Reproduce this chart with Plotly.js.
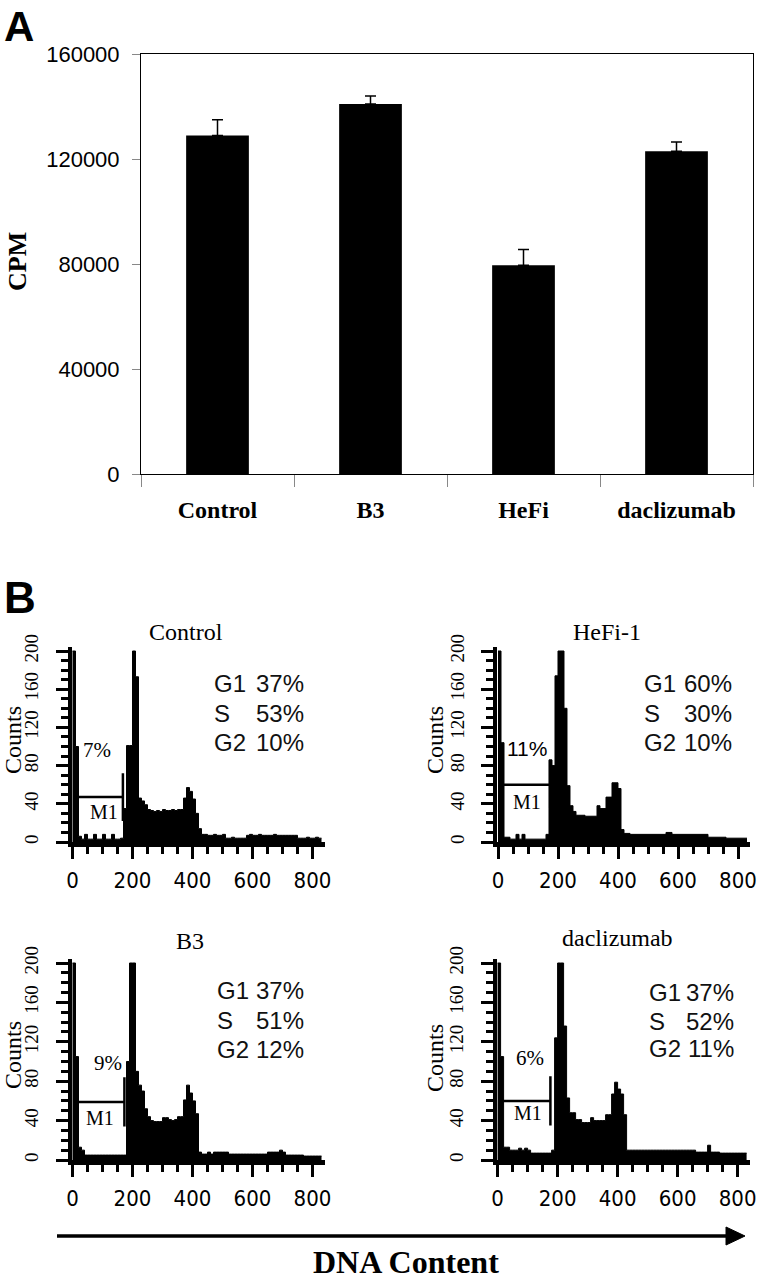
<!DOCTYPE html>
<html><head><meta charset="utf-8">
<script src="https://cdn.plot.ly/plotly-3.0.1.min.js"></script>
<style>html,body{margin:0;padding:0;background:#fff}#chart{width:757px;height:1280px}</style>
</head><body><div id="chart"></div>
<script>
// ---------- Panel A data ----------
const barCategories = ['Control', 'B3', 'HeFi', 'daclizumab'];
const cpmValues = [129000, 141000, 79500, 123000];
const cpmErrors = [6000, 3000, 6000, 3500];
const cpmTicks = [0, 40000, 80000, 120000, 160000];

// ---------- Panel B data (DNA content histograms, bins of 10 channels) ----------
const histBinWidth = 10;
const histControl = [200,100,6,3,8,3,3,8,3,3, 8,3,3,8,3,3,4,35,101,101, 200,173,46,43,39,34,33,32,33,32,
  34,33,33,34,33,34,34,46,57,53, 45,30,14,8,8,7,7,8,7,7, 8,4,4,5,4,4,4,4,7,8, 7,7,8,7,7,7,7,8,7,7,
  7,7,7,7,7,4,4,4,5,4, 4,5,4];
const histHeFi = [200,104,5,5,3,3,8,3,8,3, 3,3,3,3,3,3,8,86,80,174, 200,200,140,59,38,32,28,28,28,27,
  27,27,27,38,35,35,47,47,62,62, 56,13,9,9,8,8,8,8,8,8, 8,8,8,8,8,8,10,10,8,8, 8,8,8,8,8,8,8,8,8,8,
  5,5,5,5,5,5,4,4,4,4, 4,4,4];
const histB3 = [200,105,13,10,5,5,5,5,5,5, 5,5,5,5,5,5,5,5,100,200, 200,90,76,70,52,44,40,39,39,39,
  43,43,41,40,41,44,44,61,76,68, 60,47,8,6,6,8,6,8,8,8, 8,8,6,6,6,6,6,6,6,6, 6,6,6,6,6,8,8,8,8,10,
  8,5,5,5,5,5,5,4,4,4, 4,4,4];
const histDac = [200,105,13,13,10,10,10,12,10,12, 10,7,7,7,7,7,7,7,10,124, 200,200,136,63,48,48,41,41,38,38,
  38,43,40,40,40,40,46,46,67,79, 72,67,46,10,10,10,10,10,10,10, 10,10,10,10,10,10,10,10,10,10,
  10,10,10,10,10,10,8,8,8,8, 15,8,8,8,7,7,7,7,7,7, 7,7,7];
const countTicks = [0, 40, 80, 120, 160, 200];
const dnaTicks = [0, 200, 400, 600, 800];

const histTitles = ['Control', 'HeFi-1', 'B3', 'daclizumab'];
const phaseLabels = ['G1', 'S', 'G2'];
const phaseValues = [['37%','53%','10%'], ['60%','30%','10%'], ['37%','51%','12%'], ['37%','52%','11%']];
const m1Percent = ['7%', '11%', '9%', '6%'];
const m1Level = [47, 60, 59, 60];
const m1Start = [10, 12, 10, 10];
const m1End = [168, 174, 173, 176];

// ---------- layout helpers ----------
const W = 757, H = 1280;
const fx = p => p / W;
const fy = p => 1 - p / H;
const serif = 'Liberation Serif, Times New Roman, serif';
const sans = 'Liberation Sans, Arial, sans-serif';
const narrow = 'Liberation Sans Narrow, Arial Narrow, DejaVu Sans Condensed, sans-serif';

function ann(text, x, y, font, extra) {
  return Object.assign({text: text, x: fx(x), y: fy(y), xref: 'paper', yref: 'paper',
    showarrow: false, xanchor: 'center', yanchor: 'middle', font: font}, extra || {});
}

const traces = [{
  type: 'bar', x: barCategories, y: cpmValues, width: 0.41,
  marker: {color: '#000', line: {width: 0}},
  error_y: {type: 'data', array: cpmErrors, arrayminus: cpmErrors.map(() => 0), symmetric: false,
    color: '#000', thickness: 1.5, width: 5.5},
  xaxis: 'x', yaxis: 'y', hoverinfo: 'skip'
}];

const layout = {
  width: W, height: H, margin: {l: 0, r: 0, t: 0, b: 0},
  paper_bgcolor: '#fff', plot_bgcolor: 'rgba(0,0,0,0)', showlegend: false,
  font: {family: sans, color: '#000'},
  xaxis: {domain: [fx(141), fx(753)], anchor: 'y', type: 'category', range: [-0.5, 3.5],
    showline: true, linecolor: '#000', linewidth: 1, mirror: true,
    ticks: 'outside', tickson: 'boundaries', ticklen: 12, tickcolor: '#888', tickwidth: 1,
    tickfont: {family: serif, size: 24, weight: 'bold', color: '#000'}, ticklabelstandoff: 14,
    showgrid: false, zeroline: false},
  yaxis: {domain: [fy(474), fy(54)], anchor: 'x', range: [0, 160000], tickmode: 'array', tickvals: cpmTicks,
    ticktext: cpmTicks.map(String),
    showline: true, linecolor: '#000', linewidth: 1, mirror: true,
    ticks: 'outside', ticklen: 8, tickcolor: '#888', ticklabelstandoff: 8,
    tickfont: {family: sans, size: 22, color: '#000'}, showgrid: false, zeroline: false},
  annotations: [], shapes: []
};

const zeroX = [72.5, 498, 72.5, 497.6];
const zeroY = [842, 842, 1160, 1160];
const scaleY = [0.955, 0.955, 0.985, 0.985];
const xRange = [-2, 840], yRange = [0, 204], xScale = 0.3;

[histControl, histHeFi, histB3, histDac].forEach((counts, k) => {
  const n = k + 2;
  const xs = counts.map((_, i) => i * histBinWidth);
  xs.push(counts.length * histBinWidth);
  const ys = counts.concat([counts[counts.length - 1]]);
  traces.push({type: 'scatter', mode: 'lines', x: xs, y: ys, xaxis: 'x' + n, yaxis: 'y' + n,
    line: {shape: 'hv', color: '#000', width: 1}, fill: 'tozeroy', fillcolor: '#000', hoverinfo: 'skip'});

  const xd = [zeroX[k] + xRange[0] * xScale, zeroX[k] + xRange[1] * xScale];
  const yd = [zeroY[k] - yRange[0] * scaleY[k], zeroY[k] - yRange[1] * scaleY[k]];
  layout['xaxis' + n] = {domain: [fx(xd[0]), fx(xd[1])], anchor: 'y' + n, range: xRange,
    tickmode: 'array', tickvals: dnaTicks, ticktext: dnaTicks.map(String),
    ticks: 'outside', ticklen: 12, tickwidth: 3, tickcolor: '#000',
    minor: {dtick: 50, tick0: 0, ticks: 'outside', ticklen: 7, tickwidth: 3, tickcolor: '#000'},
    showline: true, linewidth: 5, linecolor: '#000', ticklabelstandoff: 3,
    tickfont: {family: narrow, size: 22, color: '#000'}, showgrid: false, zeroline: false};
  layout['yaxis' + n] = {domain: [fy(yd[0]), fy(yd[1])], anchor: 'x' + n, range: yRange,
    tickmode: 'array', tickvals: countTicks, ticktext: countTicks.map(String),
    ticks: 'outside', ticklen: 12, tickwidth: 3, tickcolor: '#000',
    minor: {dtick: 10, tick0: 0, ticks: 'outside', ticklen: 7, tickwidth: 3, tickcolor: '#000'},
    showline: true, linewidth: 4, linecolor: '#000', tickangle: -90, ticklabelstandoff: 10,
    tickfont: {family: serif, size: 19, color: '#000'}, showgrid: false, zeroline: false};

  // M1 gate marker
  layout.shapes.push({type: 'line', xref: 'x' + n, yref: 'y' + n, x0: m1Start[k], x1: m1End[k],
    y0: m1Level[k], y1: m1Level[k], line: {color: '#000', width: 2.5}});
  layout.shapes.push({type: 'line', xref: 'x' + n, yref: 'y' + n, x0: m1End[k], x1: m1End[k],
    y0: m1Level[k] - 25, y1: m1Level[k] + 25, line: {color: '#000', width: 2.5}});
});

// panel texts
const titlePos = [[186, 632], [607, 632], [190, 941], [617, 938]];
const countsPos = [[13, 740], [435, 740], [13, 1055], [435, 1058]];
const statsLeft = [212, 642, 215, 647], statsRight = [306, 734, 306, 736];
const statsY = [[683, 713, 742], [683, 713, 742], [990, 1020, 1049], [992, 1021, 1048]];
const pctPos = [[97, 750], [527, 748], [108, 1063], [530, 1058]];
const pctFont = [serif, sans, serif, serif];
const m1Pos = [[104, 812], [527, 802], [100, 1118], [528, 1113]];

for (let k = 0; k < 4; k++) {
  layout.annotations.push(ann(histTitles[k], titlePos[k][0], titlePos[k][1], {family: serif, size: 24, color: '#000'}));
  layout.annotations.push(ann('Counts', countsPos[k][0], countsPos[k][1], {family: serif, size: 24, color: '#000'}, {textangle: -90}));
  for (let i = 0; i < 3; i++) {
    layout.annotations.push(ann(phaseLabels[i], statsLeft[k], statsY[k][i], {family: sans, size: 24, color: '#111'}, {xanchor: 'left'}));
    layout.annotations.push(ann(phaseValues[k][i], statsRight[k], statsY[k][i], {family: sans, size: 24, color: '#111'}, {xanchor: 'right'}));
  }
  layout.annotations.push(ann(m1Percent[k], pctPos[k][0], pctPos[k][1], {family: pctFont[k], size: 21, color: '#000'}));
  layout.annotations.push(ann('M1', m1Pos[k][0], m1Pos[k][1], {family: serif, size: 20, color: '#000'}));
}

layout.annotations.push(ann('A', 2, 1, {family: sans, size: 42, weight: 'bold', color: '#000'}, {xanchor: 'left', yanchor: 'top'}));
layout.annotations.push(ann('B', 2, 597, {family: sans, size: 44, weight: 'bold', color: '#000'}, {xanchor: 'left'}));
layout.annotations.push(ann('CPM', 17, 262, {family: serif, size: 26, weight: 'bold', color: '#000'}, {textangle: -90}));
layout.annotations.push(ann('DNA Content', 406, 1262, {family: serif, size: 32, weight: 'bold', color: '#000'}));

// DNA content arrow
layout.shapes.push({type: 'line', xref: 'paper', yref: 'paper', x0: fx(57), x1: fx(730), y0: fy(1236), y1: fy(1236),
  line: {color: '#000', width: 3.5}});
layout.shapes.push({type: 'path', xref: 'paper', yref: 'paper',
  path: 'M ' + fx(726) + ' ' + fy(1227) + ' L ' + fx(745) + ' ' + fy(1236) + ' L ' + fx(726) + ' ' + fy(1245) + ' Z',
  fillcolor: '#000', line: {color: '#000', width: 1}});

Plotly.newPlot('chart', traces, layout, {staticPlot: true, displayModeBar: false});
</script>
</body></html>
